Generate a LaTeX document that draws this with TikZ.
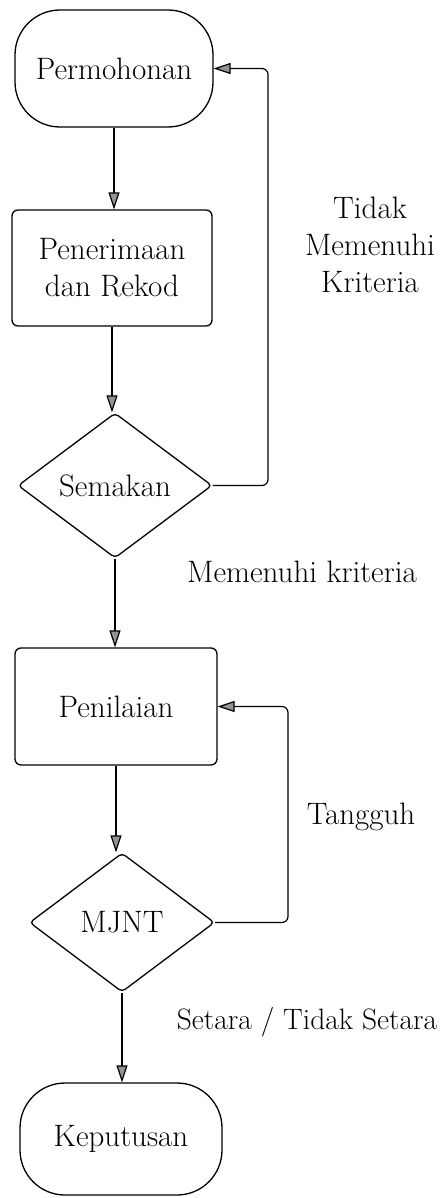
\documentclass[tikz,border=0pt]{standalone}
\usetikzlibrary{shapes.geometric,arrows.meta}
\begin{document}
\begin{tikzpicture}[x=1pt,y=-1pt,
  lbl/.style={font=\fontsize{31pt}{37pt}\selectfont, inner sep=0pt},
  bigbox/.style={lbl, draw, line width=1.3pt, rounded corners=45pt},
  procbox/.style={lbl, draw, line width=1.3pt, rounded corners=6pt, align=center},
  decide/.style={lbl, draw, line width=1.3pt, diamond, rounded corners=4pt},
  arr/.style={line width=1.2pt, -{Triangle[length=17pt,width=11pt,fill=gray!85]}},
  loop/.style={arr, rounded corners=6pt}]
\useasboundingbox (0,0) rectangle (441,1198);
\node[bigbox, minimum width=198pt, minimum height=117pt] (perm) at (114,68.5) {Permohonan};
\node[procbox, minimum width=200pt, minimum height=116pt] (pen) at (112,268) {Penerimaan\\dan Rekod};
\node[decide, minimum width=194pt, minimum height=145pt] (sem) at (115,485.5) {Semakan};
\node[procbox, minimum width=202pt, minimum height=117pt] (pnl) at (116,706.5) {Penilaian};
\node[decide, minimum width=185pt, minimum height=139pt] (mjnt) at (122,922.5) {MJNT};
\node[bigbox, minimum width=202pt, minimum height=112pt] (kep) at (121,1139) {Keputusan};
\coordinate (c1) at (268,0);
\coordinate (c2) at (288,0);
\draw[arr] (perm.south) -- (perm.south |- pen.north);
\draw[arr] (pen.south) -- (pen.south |- sem.north);
\draw[arr] (sem.south) -- (sem.south |- pnl.north);
\draw[arr] (pnl.south) -- (pnl.south |- mjnt.north);
\draw[arr] (mjnt.south) -- (mjnt.south |- kep.north);
\draw[loop] (sem.east) -- (sem.east -| c1) -- (c1 |- perm.east) -- (perm.east);
\draw[loop] (mjnt.east) -- (mjnt.east -| c2) -- (c2 |- pnl.east) -- (pnl.east);
\node[lbl, align=center] (t1) at (370,245) {Tidak\\Memenuhi\\Kriteria};
\node[lbl] (t2) at (302,572) {Memenuhi kriteria};
\node[lbl] (t3) at (361,817) {Tangguh};
\node[lbl, font=\fontsize{29.5pt}{37pt}\selectfont] (t4) at (307,1022) {Setara / Tidak Setara};
\end{tikzpicture}
\end{document}
